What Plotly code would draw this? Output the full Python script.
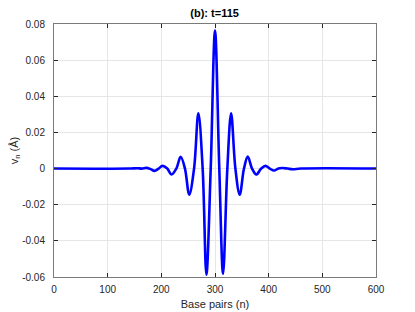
import plotly.graph_objects as go

# displacement profile (extrema and zero crossings)
base_pairs = [0, 140, 155, 164, 172, 180, 187, 195, 202, 211, 219, 228, 236,
              244, 252, 261, 269, 277, 284, 292, 300, 308, 315, 323, 330, 338,
              346, 354, 361, 369, 377, 386, 394, 402, 410, 418, 425, 435, 445,
              460, 600]
v_n = [0, 0, 0.0002, 0, 0.0004, -0.0003, -0.0013, 0, 0.0015, 0, -0.0033, 0,
       0.0065, 0, -0.0144, 0, 0.0306, 0, -0.0587, 0, 0.0764, 0, -0.0582, 0,
       0.0306, 0, -0.0144, 0, 0.0066, 0, -0.0033, 0, 0.0015, 0, -0.0011, 0,
       0.0003, 0, -0.0004, 0, 0]

x_ticks = [0, 100, 200, 300, 400, 500, 600]
y_ticks = [-0.06, -0.04, -0.02, 0, 0.02, 0.04, 0.06, 0.08]
y_labels = ["-0.06", "-0.04", "-0.02", "0", "0.02", "0.04", "0.06", "0.08"]

FONT = "Liberation Sans, Arial, Helvetica, sans-serif"
INK = "#262626"

fig = go.Figure()
fig.add_trace(go.Scatter(x=base_pairs, y=v_n, mode="lines",
                         line=dict(color="#0000ff", width=2.6, shape="spline",
                                   smoothing=1.0),
                         showlegend=False, hoverinfo="skip"))

axis_common = dict(
    showline=True, linecolor="#7a7a7a", linewidth=1, mirror="allticks",
    ticks="inside", ticklen=4, tickcolor=INK, tickwidth=1,
    showgrid=True, gridcolor="#e6e6e6", gridwidth=1, zeroline=False,
    tickfont=dict(family=FONT, size=10, color=INK), automargin=False,
)

fig.update_xaxes(range=[0, 600], tickvals=x_ticks,
                 title=dict(text="Base pairs (n)", standoff=6,
                            font=dict(family=FONT, size=11, color=INK)),
                 ticklabelstandoff=3, **axis_common)
fig.update_yaxes(range=[-0.06, 0.08], tickvals=y_ticks, ticktext=y_labels,
                 title=dict(text="v<sub>n</sub> (Å)", standoff=2,
                            font=dict(family=FONT, size=11, color=INK)),
                 ticklabelstandoff=6, **axis_common)

# page body adds an 8px offset, so margins are shifted to compensate
fig.update_layout(
    width=415, height=312,
    margin=dict(l=46, r=47, t=16, b=43, autoexpand=False),
    paper_bgcolor="white", plot_bgcolor="white",
    title=dict(text="<b>(b): t=115</b>", x=(46 + 161) / 415, xanchor="center",
               xref="paper", y=0.984, yanchor="middle",
               font=dict(family=FONT, size=11, color="#000000")),
)

fig.write_html("out.html")
